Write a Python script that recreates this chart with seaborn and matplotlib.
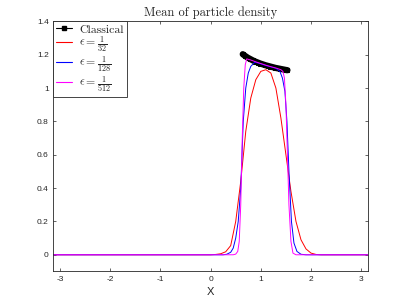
import numpy as np
import pandas as pd
import matplotlib
matplotlib.use('Agg')
import matplotlib.pyplot as plt
from matplotlib.lines import Line2D
import seaborn as sns

# classical solution (black, square markers)
x_classical = [0.64, 0.69, 0.74, 0.79, 0.84, 0.89, 0.94, 0.99, 1.04, 1.09, 1.14,
               1.19, 1.24, 1.29, 1.34, 1.39, 1.44, 1.49, 1.53]
y_classical = [1.203, 1.192, 1.182, 1.174, 1.166, 1.159, 1.153, 1.147, 1.142, 1.137, 1.133,
               1.129, 1.125, 1.121, 1.118, 1.115, 1.112, 1.109, 1.107]

# eps = 1/32
x_eps32 = [-3.1416, 0.0, 0.1, 0.2, 0.3, 0.4, 0.5, 0.6, 0.7, 0.8, 0.9, 1.0, 1.1, 1.2,
           1.3, 1.4, 1.5, 1.6, 1.7, 1.8, 1.9, 2.0, 2.1, 2.2, 3.1416]
y_eps32 = [0.0, 0.0, 0.002, 0.006, 0.018, 0.055, 0.2, 0.44, 0.74, 0.94, 1.05, 1.10, 1.11, 1.09,
           1.0, 0.82, 0.6, 0.38, 0.2, 0.09, 0.035, 0.01, 0.002, 0.0, 0.0]

# eps = 1/128
x_eps128 = [-3.1416, 0.25, 0.32, 0.4, 0.45, 0.5, 0.55, 0.6, 0.65, 0.7, 0.75, 0.8, 0.88, 1.0,
            1.1, 1.2, 1.3, 1.38, 1.43, 1.48, 1.52, 1.56, 1.61, 1.66, 1.72, 1.8, 1.9, 3.1416]
y_eps128 = [0.0, 0.0, 0.003, 0.015, 0.04, 0.1, 0.2, 0.4, 0.8, 1.0, 1.09, 1.13, 1.155, 1.145,
            1.135, 1.127, 1.118, 1.10, 1.06, 0.98, 0.8, 0.5, 0.2, 0.07, 0.02, 0.003, 0.0, 0.0]

# eps = 1/512
x_eps512 = [-3.1416, 0.45, 0.5, 0.54, 0.57, 0.6, 0.63, 0.66, 0.69, 0.72, 0.8, 0.9, 1.0, 1.1,
            1.2, 1.3, 1.4, 1.44, 1.47, 1.5, 1.53, 1.56, 1.6, 1.64, 1.7, 3.1416]
y_eps512 = [0.0, 0.0, 0.004, 0.02, 0.08, 0.3, 0.7, 1.0, 1.14, 1.175, 1.168, 1.157, 1.147, 1.137,
            1.128, 1.12, 1.11, 1.10, 1.06, 0.9, 0.6, 0.3, 0.08, 0.01, 0.0, 0.0]

labels = ['Classical', r'$\epsilon=\frac{1}{32}$', r'$\epsilon=\frac{1}{128}$',
          r'$\epsilon=\frac{1}{512}$']
colors = ['black', '#ff0000', '#0000ff', '#ff00ff']

y_ticks = [0, 0.2, 0.4, 0.6, 0.8, 1, 1.2, 1.4]
y_tick_labels = ['0', '0.2', '0.4', '0.6', '0.8', '1', '1.2', '1.4']
x_ticks = [-3, -2, -1, 0, 1, 2, 3]

sns.set_style('ticks')
plt.rcParams['font.family'] = ['Liberation Sans', 'DejaVu Sans']
plt.rcParams['mathtext.fontset'] = 'cm'

fig = plt.figure(figsize=(4.07, 3.05), dpi=100)
ax = fig.add_axes([0.13, 0.11, 0.775, 0.82])

# classical first so the eps curves sit on top of it
sns.lineplot(x=x_classical, y=y_classical, color=colors[0], linewidth=4.5, marker='s',
             markersize=3.5, markeredgecolor='black', sort=False, estimator=None, ax=ax)
plt.setp(ax.get_lines()[-1], solid_capstyle='round')
sns.lineplot(x=x_eps32, y=y_eps32, color=colors[1], linewidth=0.7, sort=False,
             estimator=None, ax=ax)
sns.lineplot(x=x_eps128, y=y_eps128, color=colors[2], linewidth=0.7, sort=False,
             estimator=None, ax=ax)
sns.lineplot(x=x_eps512, y=y_eps512, color=colors[3], linewidth=0.7, sort=False,
             estimator=None, ax=ax)

ax.set_xlim(-np.pi, np.pi)
ax.set_ylim(-0.1, 1.4)
ax.set_xticks(x_ticks)
ax.set_xticklabels([str(t) for t in x_ticks])
ax.set_yticks(y_ticks)
ax.set_yticklabels(y_tick_labels)
ax.tick_params(direction='in', length=2.5, width=0.5, labelsize=6, colors='#262626',
               top=True, right=True, pad=3)
for s in ax.spines.values():
    s.set_linewidth(0.6)
    s.set_color('#262626')

ax.set_xlabel('X', fontsize=8, color='#262626', labelpad=3)
ax.set_ylabel('')
ax.set_title('Mean of particle density', fontsize=9, fontname='cmr10', pad=4)

# legend, MATLAB style
handles = [Line2D([0], [0], color=colors[0], linewidth=0.8, marker='s', markersize=2.5),
           Line2D([0], [0], color=colors[1], linewidth=0.8),
           Line2D([0], [0], color=colors[2], linewidth=0.8),
           Line2D([0], [0], color=colors[3], linewidth=0.8)]
leg = ax.legend(handles=handles, labels=labels, loc='upper left', borderaxespad=0,
                fancybox=False, framealpha=1, edgecolor='#262626', handlelength=1.4,
                labelspacing=0.0, borderpad=0.25, handletextpad=0.6,
                prop={'family': 'cmr10', 'size': 8.5})
leg.get_frame().set_linewidth(0.6)

fig.savefig('out.png', dpi=100)
